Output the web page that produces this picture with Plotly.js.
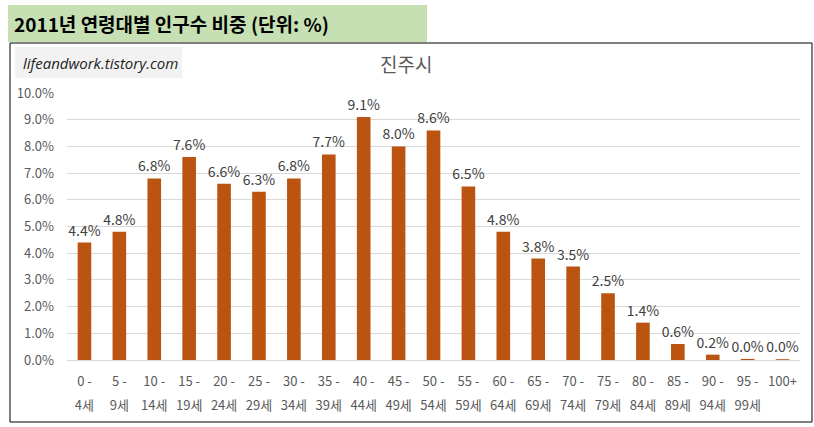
<!DOCTYPE html>
<html>
<head>
<meta charset="utf-8">
<script src="https://cdn.plot.ly/plotly-3.0.1.min.js"></script>
<style>
  html, body { margin: 0; padding: 0; background: #fff; }
  #chart { width: 814px; height: 427px; }
</style>
</head>
<body>
<div id="chart"></div>
<script>
// age groups, first and second label line
var ageStart = ['0 -', '5 -', '10 -', '15 -', '20 -', '25 -', '30 -', '35 -', '40 -', '45 -', '50 -',
                '55 -', '60 -', '65 -', '70 -', '75 -', '80 -', '85 -', '90 -', '95 -', '100+'];
var ageEnd = ['4세', '9세', '14세', '19세', '24세', '29세', '34세', '39세', '44세', '49세', '54세',
              '59세', '64세', '69세', '74세', '79세', '84세', '89세', '94세', '99세', ''];
// share of population (%), Jinju 2011
var share = [4.4, 4.8, 6.8, 7.6, 6.6, 6.3, 6.8, 7.7, 9.1, 8.0, 8.6,
             6.5, 4.8, 3.8, 3.5, 2.5, 1.4, 0.6, 0.2, 0.04, 0.03];
var yTicks = [0, 1, 2, 3, 4, 5, 6, 7, 8, 9, 10];

var W = 814, H = 427;
var M = {l: 67, r: 14, t: 93, b: 67};
var pw = W - M.l - M.r, ph = H - M.t - M.b;
function px(x) { return (x - M.l) / pw; }
function py(y) { return (H - M.b - y) / ph; }

var idx = share.map(function (v, i) { return i; });
var font = '"Noto Sans CJK KR", "Noto Sans", sans-serif';

var bars = {
  type: 'bar',
  x: idx,
  y: share,
  marker: {color: '#BA5410'},
  width: 0.39,
  text: share.map(function (v) { return v.toFixed(1) + '%'; }),
  textposition: 'outside',
  constraintext: 'none',
  textfont: {size: 14, color: '#404040', family: font},
  cliponaxis: false,
  hoverinfo: 'skip'
};
var ghost = {
  type: 'scatter',
  mode: 'markers',
  x: idx,
  y: share.map(function () { return 0; }),
  xaxis: 'x2',
  marker: {opacity: 0},
  hoverinfo: 'skip',
  showlegend: false
};

var layout = {
  width: W, height: H,
  margin: M,
  paper_bgcolor: '#fff',
  plot_bgcolor: '#fff',
  showlegend: false,
  font: {family: font, color: '#595959', size: 13},
  xaxis: {
    range: [-0.5, share.length - 0.5],
    tickmode: 'array', tickvals: idx, ticktext: ageStart,
    showgrid: false, zeroline: false, showline: false,
    ticks: '', ticklabelstandoff: 12,
    tickfont: {size: 13, color: '#595959'},
    fixedrange: true
  },
  xaxis2: {
    overlaying: 'x', side: 'bottom', anchor: 'y',
    range: [-0.5, share.length - 0.5],
    tickmode: 'array', tickvals: idx, ticktext: ageEnd,
    showgrid: false, zeroline: false, showline: false,
    ticks: '', ticklabelstandoff: 36,
    tickfont: {size: 13, color: '#595959'},
    fixedrange: true
  },
  yaxis: {
    range: [0, 10],
    tickmode: 'array', tickvals: yTicks,
    ticktext: yTicks.map(function (v) { return v.toFixed(1) + '%'; }),
    showgrid: true, gridcolor: '#D9D9D9', gridwidth: 1,
    zeroline: true, zerolinecolor: '#D9D9D9', zerolinewidth: 1,
    showline: false, ticks: '', ticklabelstandoff: 12,
    tickfont: {size: 13, color: '#595959'},
    fixedrange: true
  },
  shapes: [
    {type: 'rect', xref: 'paper', yref: 'paper', layer: 'below',
     x0: px(10), x1: px(812), y0: py(43), y1: py(422),
     line: {color: '#000', width: 1}, fillcolor: 'rgba(0,0,0,0)'},
    {type: 'rect', xref: 'paper', yref: 'paper', layer: 'above',
     x0: px(8), x1: px(427), y0: py(5), y1: py(42),
     line: {width: 0}, fillcolor: '#C6E0B4'},
    {type: 'rect', xref: 'paper', yref: 'paper', layer: 'above',
     x0: px(15), x1: px(182), y0: py(47), y1: py(78),
     line: {width: 0}, fillcolor: '#F2F2F2'}
  ],
  annotations: [
    {text: '<b>2011년 연령대별 인구수 비중 (단위: %)</b>', xref: 'paper', yref: 'paper',
     x: px(12), y: py(23), xanchor: 'left', yanchor: 'middle', showarrow: false,
     font: {size: 19, color: '#000', family: font}},
    {text: '<i>lifeandwork.tistory.com</i>', xref: 'paper', yref: 'paper',
     x: px(21), y: py(63), xanchor: 'left', yanchor: 'middle', showarrow: false,
     font: {size: 15, color: '#222', family: '"Open Sans", "Noto Sans", sans-serif'}},
    {text: '진주시', xref: 'paper', yref: 'paper',
     x: px(406), y: py(64), xanchor: 'center', yanchor: 'middle', showarrow: false,
     font: {size: 19, color: '#595959', family: font}}
  ]
};

Plotly.newPlot('chart', [bars, ghost], layout, {displayModeBar: false, staticPlot: true});
</script>
</body>
</html>
